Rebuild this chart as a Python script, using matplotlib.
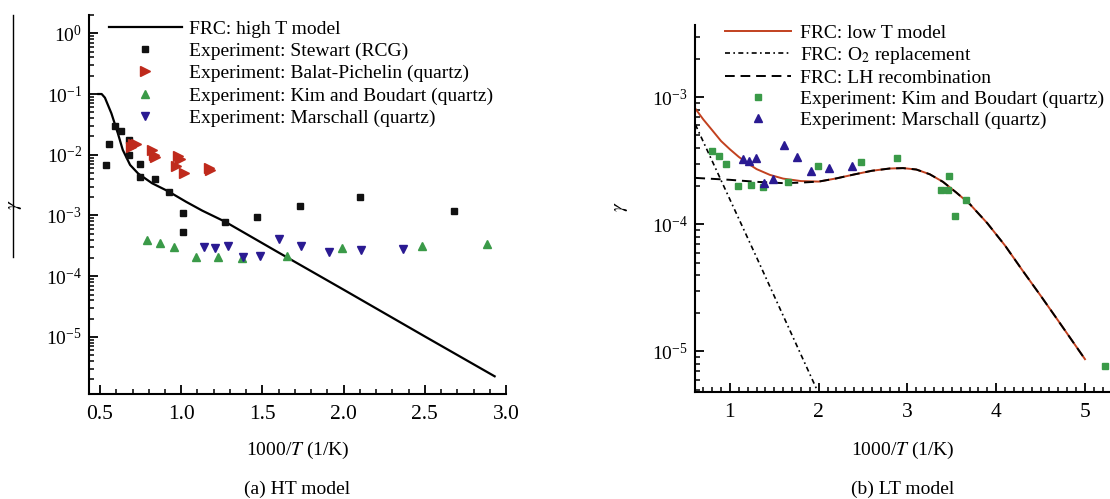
import matplotlib
matplotlib.use("Agg")
import matplotlib.pyplot as plt
from matplotlib.lines import Line2D
from matplotlib.ticker import MultipleLocator, LogLocator, FormatStrFormatter, NullFormatter

plt.rcParams['font.family'] = ['Liberation Serif', 'DejaVu Serif']
plt.rcParams['mathtext.fontset'] = 'stix'
plt.rcParams['font.size'] = 14

# ---- (a) HT model ----
ht_x = [0.49, 0.51, 0.53, 0.57, 0.61, 0.64, 0.685, 0.735, 0.82, 0.92, 1.03, 1.13, 1.27, 1.6, 2.0, 2.5, 2.93]
ht_y = [0.1, 0.1, 0.087, 0.048, 0.0224, 0.012, 0.0068, 0.0049, 0.0034, 0.0025, 1.68e-3, 1.2e-3,
        7.9e-4, 2.45e-4, 6.0e-5, 1.02e-5, 2.25e-6]

stewart_x = [0.538, 0.555, 0.592, 0.632, 0.68, 0.676, 0.749, 0.749, 0.841, 0.922, 1.01, 1.01,
             1.267, 1.467, 1.73, 2.10, 2.68]
stewart_y = [6.7e-3, 0.015, 0.030, 0.0245, 0.0174, 0.0099, 0.0070, 0.0043, 0.0040, 0.0024, 1.08e-3,
             5.3e-4, 7.7e-4, 9.5e-4, 1.44e-3, 2.0e-3, 1.17e-3]

balat_x = [0.69, 0.70, 0.72, 0.82, 0.83, 0.84, 0.98, 0.99, 0.97, 1.02, 1.17, 1.18]
balat_y = [0.0135, 0.0148, 0.0150, 0.0122, 0.0100, 0.0092, 0.0096, 0.0086, 0.0065, 0.0050, 0.0060, 0.0057]

kimA_x = [0.79, 0.87, 0.957, 1.089, 1.226, 1.375, 1.65, 1.99, 2.48, 2.88]
kimA_y = [3.9e-4, 3.55e-4, 3.0e-4, 2.08e-4, 2.08e-4, 1.96e-4, 2.18e-4, 2.97e-4, 3.16e-4, 3.38e-4]

marA_x = [1.14, 1.21, 1.29, 1.38, 1.485, 1.60, 1.74, 1.91, 2.11, 2.365]
marA_y = [3.0e-4, 2.97e-4, 3.15e-4, 2.04e-4, 2.14e-4, 4.06e-4, 3.15e-4, 2.46e-4, 2.7e-4, 2.76e-4]

# ---- (b) LT model ----
lt_x = [0.61, 0.7, 0.8, 0.9, 1.0, 1.1, 1.2, 1.3, 1.45, 1.6, 1.8, 2.0, 2.2, 2.4, 2.6, 2.8, 2.95,
        3.1, 3.25, 3.4, 3.55, 3.7, 3.9, 4.1, 4.3, 4.5, 4.7, 5.0]
lt_y = [8.13e-4, 6.68e-4, 5.50e-4, 4.52e-4, 3.89e-4, 3.39e-4, 3.02e-4, 2.72e-4, 2.45e-4, 2.29e-4,
        2.19e-4, 2.17e-4, 2.30e-4, 2.47e-4, 2.64e-4, 2.75e-4, 2.77e-4, 2.70e-4, 2.48e-4, 2.16e-4,
        1.78e-4, 1.45e-4, 1.02e-4, 6.8e-5, 4.3e-5, 2.75e-5, 1.74e-5, 8.7e-6]

lh_x = [0.61, 1.0, 1.3, 1.6, 1.8, 2.0, 2.2, 2.4, 2.6, 2.8, 2.95, 3.1, 3.25, 3.4, 3.55, 3.7, 3.9,
        4.1, 4.3, 4.5, 4.7, 5.0]
lh_y = [2.32e-4, 2.24e-4, 2.16e-4, 2.11e-4, 2.13e-4, 2.17e-4, 2.30e-4, 2.47e-4, 2.64e-4, 2.75e-4,
        2.77e-4, 2.70e-4, 2.48e-4, 2.16e-4, 1.78e-4, 1.45e-4, 1.02e-4, 6.8e-5, 4.3e-5, 2.75e-5,
        1.74e-5, 8.7e-6]

o2_x = [0.61, 1.3, 1.98]
o2_y = [6.1e-4, 5.5e-5, 5.0e-6]

kimB_x = [0.80, 0.875, 0.958, 1.091, 1.232, 1.376, 1.654, 1.994, 2.477, 2.88, 3.375, 3.46, 3.47,
          3.54, 3.66, 5.225]
kimB_y = [3.81e-4, 3.47e-4, 2.98e-4, 2.02e-4, 2.05e-4, 1.96e-4, 2.15e-4, 2.9e-4, 3.09e-4, 3.32e-4,
          1.87e-4, 1.85e-4, 2.38e-4, 1.17e-4, 1.56e-4, 7.7e-6]

marB_x = [1.144, 1.213, 1.297, 1.384, 1.49, 1.605, 1.754, 1.917, 2.115, 2.375]
marB_y = [3.26e-4, 3.13e-4, 3.32e-4, 2.13e-4, 2.28e-4, 4.23e-4, 3.36e-4, 2.61e-4, 2.8e-4, 2.9e-4]

RED = '#bf2a1c'
GREEN = '#3a9a48'
BLUE = '#2a1a92'
LTRED = '#c2411f'

W, H = 1110, 499
fig = plt.figure(figsize=(W / 100, H / 100), dpi=100)


def style_axes(ax):
    for s in ['top', 'right']:
        ax.spines[s].set_visible(False)
    for s in ['left', 'bottom']:
        ax.spines[s].set_linewidth(1.5)
    ax.set_yscale('log')
    ax.yaxis.set_major_locator(LogLocator(base=10, numticks=20))
    ax.yaxis.set_minor_locator(LogLocator(base=10, subs=range(2, 10), numticks=20))
    ax.yaxis.set_minor_formatter(NullFormatter())
    ax.tick_params(which='major', direction='in', length=6.5, width=1.3)
    ax.tick_params(which='minor', direction='in', length=3.5, width=1.1)
    ax.tick_params(axis='x', which='both', pad=8, top=False, labelsize=15.5)
    ax.tick_params(axis='y', which='both', pad=5, right=False)


axL = fig.add_axes([89 / W, 1 - 394 / H, (506 - 89) / W, (394 - 15) / H])
style_axes(axL)
axL.plot(ht_x, ht_y, color='black', lw=1.6, label='FRC: high T model')
axL.plot(stewart_x, stewart_y, 's', color='#111111', ms=5, label='Experiment: Stewart (RCG)')
axL.plot(balat_x, balat_y, '>', color=RED, ms=6.5, label='Experiment: Balat-Pichelin (quartz)')
axL.plot(kimA_x, kimA_y, '^', color=GREEN, ms=5.5, label='Experiment: Kim and Boudart (quartz)')
axL.plot(marA_x, marA_y, 'v', color=BLUE, ms=5.5, label='Experiment: Marschall (quartz)')
axL.set_xlim(0.432, 3.0)
axL.set_ylim(1.15e-6, 2.0)
axL.xaxis.set_major_locator(MultipleLocator(0.5))
axL.xaxis.set_minor_locator(MultipleLocator(0.1))
axL.xaxis.set_major_formatter(FormatStrFormatter('%.1f'))
axL.legend(loc='upper left', bbox_to_anchor=(109 / W, 1 - 20 / H), bbox_transform=fig.transFigure,
           frameon=False, borderpad=0, borderaxespad=0, handlelength=3.75, handletextpad=0.35,
           labelspacing=0.24, numpoints=1, fontsize=14)

axR = fig.add_axes([695 / W, 1 - 392 / H, (1110 - 695) / W, (392 - 25) / H])
style_axes(axR)
axR.plot(lt_x, lt_y, color=LTRED, lw=1.4, label='FRC: low T model', zorder=2)
axR.plot(o2_x, o2_y, color='black', lw=1.2, dashes=(3, 2, 1, 2), label='FRC: O$_2$ replacement', zorder=2)
axR.plot(lh_x, lh_y, color='black', lw=1.4, dashes=(5, 3), label='FRC: LH recombination', zorder=3)
axR.plot(kimB_x, kimB_y, 's', color=GREEN, ms=5, label='Experiment: Kim and Boudart (quartz)', zorder=4)
axR.plot(marB_x, marB_y, '^', color=BLUE, ms=6, label='Experiment: Marschall (quartz)', zorder=4)
axR.set_xlim(0.606, 5.282)
axR.set_ylim(4.8e-6, 3.7e-3)
axR.xaxis.set_major_locator(MultipleLocator(1))
axR.xaxis.set_minor_locator(MultipleLocator(0.1))
axR.legend(loc='upper left', bbox_to_anchor=(725 / W, 1 - 24 / H), bbox_transform=fig.transFigure,
           frameon=False, borderpad=0, borderaxespad=0, handlelength=3.4, handletextpad=0.45,
           labelspacing=0.17, numpoints=1, fontsize=14)

# axis titles and captions
fig.text(15 / W, 1 - 205 / H, r'$\gamma$', rotation=90, ha='center', va='center', fontsize=14)
fig.text(622 / W, 1 - 207 / H, r'$\gamma$', rotation=90, ha='center', va='center', fontsize=14)
fig.text(297.5 / W, 1 - 450 / H, '1000/$T$ (1/K)', ha='center', va='center', fontsize=14)
fig.text(902.5 / W, 1 - 450 / H, '1000/$T$ (1/K)', ha='center', va='center', fontsize=14)
fig.text(297.5 / W, 1 - 489 / H, '(a) HT model', ha='center', va='center', fontsize=14)
fig.text(902.5 / W, 1 - 489 / H, '(b) LT model', ha='center', va='center', fontsize=14)
fig.add_artist(Line2D([12.5 / W, 12.5 / W], [1 - 15 / H, 1 - 257 / H], transform=fig.transFigure,
                      color='black', lw=1.0))

fig.savefig('out.png', dpi=100)
